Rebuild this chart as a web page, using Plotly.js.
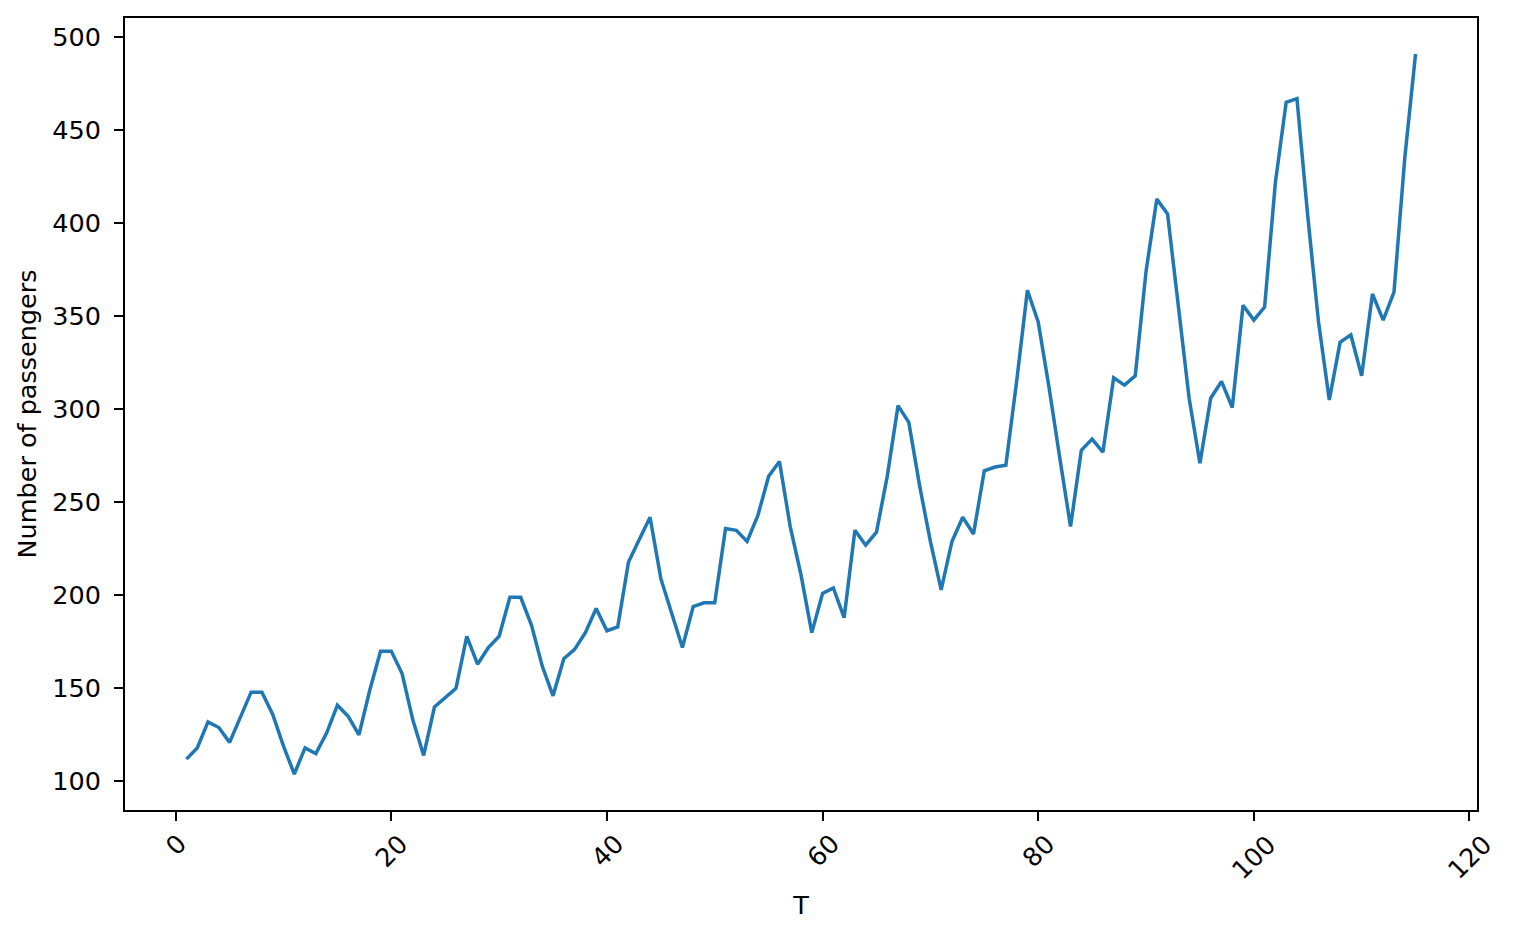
<!DOCTYPE html>
<html>
<head>
<meta charset="utf-8">
<script src="https://cdn.plot.ly/plotly-3.0.1.min.js"></script>
<style>html,body{margin:0;padding:0;background:#fff;}</style>
</head>
<body>
<div id="chart" style="width:1515px;height:940px;"></div>
<script>
const T = [];
for (let i = 1; i <= 115; i++) T.push(i);
const passengers = [
  112,118,132,129,121,135,148,148,136,119,104,118,
  115,126,141,135,125,149,170,170,158,133,114,140,
  145,150,178,163,172,178,199,199,184,162,146,166,
  171,180,193,181,183,218,230,242,209,191,172,194,
  196,196,236,235,229,243,264,272,237,211,180,201,
  204,188,235,227,234,264,302,293,259,229,203,229,
  242,233,267,269,270,315,364,347,312,274,237,278,
  284,277,317,313,318,374,413,405,355,306,271,306,
  315,301,356,348,355,422,465,467,404,347,305,336,
  340,318,362,348,363,435,491
];
const xTicks = [0,20,40,60,80,100,120];
const yTicks = [100,150,200,250,300,350,400,450,500];

const font = {family: 'DejaVu Sans', size: 25.5, color: '#000'};

const xLabels = xTicks.map(v => ({
  x: v, xref: 'x', y: 0, yref: 'paper',
  text: String(v), textangle: -45, showarrow: false,
  xanchor: 'center', yanchor: 'top', yshift: -16,
  font: font
}));

Plotly.newPlot('chart', [{
  x: T, y: passengers, type: 'scatter', mode: 'lines',
  line: {color: '#1f77b4', width: 3.5}
}], {
  width: 1515, height: 940,
  margin: {l: 125, r: 38, t: 18, b: 130},
  paper_bgcolor: '#fff', plot_bgcolor: '#fff',
  font: font,
  showlegend: false,
  annotations: xLabels,
  xaxis: {
    range: [-4.7, 120.7], tickvals: xTicks, showticklabels: false,
    ticks: 'outside', ticklen: 9, tickwidth: 2, tickcolor: '#000',
    showline: true, linecolor: '#000', linewidth: 2, mirror: true,
    showgrid: false, zeroline: false,
    title: {text: 'T', font: font, standoff: 76}
  },
  yaxis: {
    range: [84.65, 510.35], tickvals: yTicks, ticktext: yTicks.map(String),
    ticks: 'outside', ticklen: 9, tickwidth: 2, tickcolor: '#000',
    ticklabelstandoff: 8,
    showline: true, linecolor: '#000', linewidth: 2, mirror: true,
    showgrid: false, zeroline: false, tickfont: font,
    title: {text: 'Number of passengers', font: font, standoff: 8}
  }
}, {staticPlot: true, displayModeBar: false});
</script>
</body>
</html>
